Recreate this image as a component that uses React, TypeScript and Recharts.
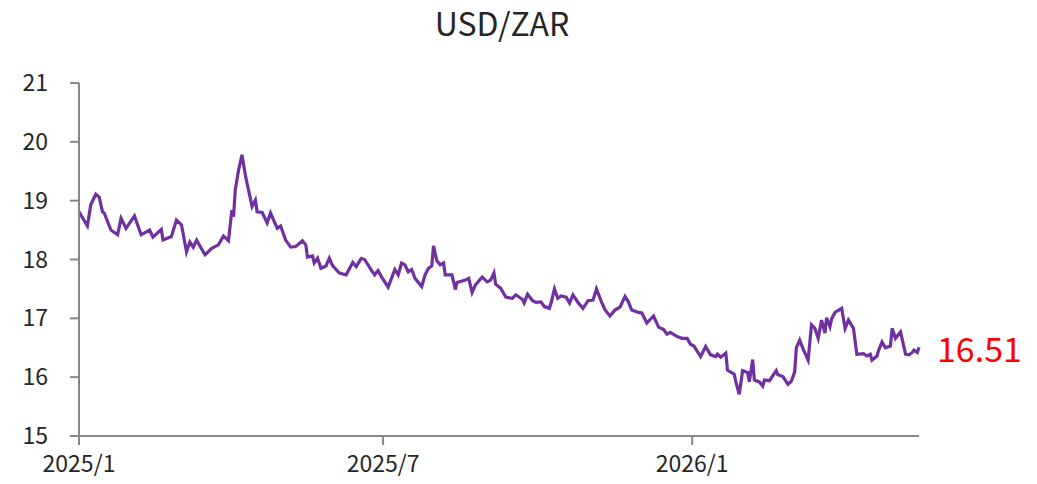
import { LineChart, Line, XAxis, YAxis } from 'recharts';

const dates = [
  '2025-01-01', '2025-01-06', '2025-01-08', '2025-01-11', '2025-01-13', '2025-01-15', '2025-01-16', '2025-01-20',
  '2025-01-24', '2025-01-26', '2025-01-29', '2025-02-03', '2025-02-07', '2025-02-12', '2025-02-14', '2025-02-19',
  '2025-02-20', '2025-02-25', '2025-02-28', '2025-03-03', '2025-03-06', '2025-03-08', '2025-03-10', '2025-03-12',
  '2025-03-17', '2025-03-21', '2025-03-25', '2025-03-28', '2025-03-31', '2025-04-02', '2025-04-03', '2025-04-04',
  '2025-04-06', '2025-04-08', '2025-04-10', '2025-04-11', '2025-04-13', '2025-04-14', '2025-04-16', '2025-04-17',
  '2025-04-20', '2025-04-23', '2025-04-25', '2025-04-29', '2025-05-01', '2025-05-04', '2025-05-07', '2025-05-10',
  '2025-05-14', '2025-05-16', '2025-05-17', '2025-05-20', '2025-05-21', '2025-05-23', '2025-05-25', '2025-05-28',
  '2025-05-30', '2025-06-01', '2025-06-05', '2025-06-09', '2025-06-13', '2025-06-15', '2025-06-18', '2025-06-20',
  '2025-06-24', '2025-06-26', '2025-06-28', '2025-06-30', '2025-07-04', '2025-07-06', '2025-07-08', '2025-07-10',
  '2025-07-12', '2025-07-14', '2025-07-16', '2025-07-18', '2025-07-20', '2025-07-24', '2025-07-26', '2025-07-28',
  '2025-07-30', '2025-07-31', '2025-08-02', '2025-08-04', '2025-08-06', '2025-08-07', '2025-08-11', '2025-08-13',
  '2025-08-14', '2025-08-19', '2025-08-21', '2025-08-23', '2025-08-25', '2025-08-29', '2025-09-01', '2025-09-03',
  '2025-09-05', '2025-09-06', '2025-09-09', '2025-09-12', '2025-09-16', '2025-09-18', '2025-09-22', '2025-09-23',
  '2025-09-25', '2025-09-28', '2025-09-30', '2025-10-03', '2025-10-05', '2025-10-08', '2025-10-09', '2025-10-11',
  '2025-10-13', '2025-10-15', '2025-10-18', '2025-10-20', '2025-10-22', '2025-10-25', '2025-10-28', '2025-10-31',
  '2025-11-03', '2025-11-05', '2025-11-08', '2025-11-10', '2025-11-13', '2025-11-16', '2025-11-19', '2025-11-22',
  '2025-11-24', '2025-11-26', '2025-11-30', '2025-12-02', '2025-12-05', '2025-12-09', '2025-12-12', '2025-12-15',
  '2025-12-17', '2025-12-19', '2025-12-23', '2025-12-26', '2025-12-29', '2025-12-31', '2026-01-02', '2026-01-06',
  '2026-01-09', '2026-01-12', '2026-01-15', '2026-01-16', '2026-01-18', '2026-01-21', '2026-01-22', '2026-01-26',
  '2026-01-27', '2026-01-29', '2026-01-31', '2026-02-03', '2026-02-04', '2026-02-06', '2026-02-07', '2026-02-10',
  '2026-02-12', '2026-02-13', '2026-02-16', '2026-02-20', '2026-02-21', '2026-02-24', '2026-02-27', '2026-03-01',
  '2026-03-03', '2026-03-04', '2026-03-06', '2026-03-08', '2026-03-11', '2026-03-13', '2026-03-15', '2026-03-17',
  '2026-03-19', '2026-03-21', '2026-03-22', '2026-03-24', '2026-03-25', '2026-03-27', '2026-03-31', '2026-04-02',
  '2026-04-04', '2026-04-07', '2026-04-09', '2026-04-13', '2026-04-15', '2026-04-17', '2026-04-18', '2026-04-21',
  '2026-04-22', '2026-04-24', '2026-04-26', '2026-04-29', '2026-04-30', '2026-05-02', '2026-05-05', '2026-05-08',
  '2026-05-10', '2026-05-12', '2026-05-13', '2026-05-15', '2026-05-16',
];

const usdzar = [
  18.81, 18.57, 18.93, 19.11, 19.06, 18.81, 18.79, 18.5,
  18.42, 18.7, 18.53, 18.74, 18.42, 18.5, 18.38, 18.51,
  18.33, 18.39, 18.67, 18.59, 18.13, 18.3, 18.21, 18.33,
  18.08, 18.19, 18.25, 18.4, 18.32, 18.84, 18.73, 19.18,
  19.52, 19.78, 19.44, 19.3, 19.04, 18.9, 19.01, 18.81,
  18.8, 18.62, 18.79, 18.53, 18.57, 18.33, 18.21, 18.22,
  18.32, 18.25, 18.04, 18.06, 17.94, 18.02, 17.85, 17.89,
  18.02, 17.89, 17.77, 17.74, 17.95, 17.88, 18.02, 18.0,
  17.82, 17.74, 17.81, 17.71, 17.53, 17.68, 17.83, 17.74,
  17.94, 17.91, 17.79, 17.83, 17.68, 17.54, 17.74, 17.85,
  17.89, 18.23, 17.98, 17.91, 17.94, 17.74, 17.74, 17.49,
  17.61, 17.65, 17.68, 17.44, 17.57, 17.7, 17.62, 17.65,
  17.77, 17.58, 17.51, 17.36, 17.34, 17.4, 17.32, 17.26,
  17.41, 17.3, 17.27, 17.28, 17.2, 17.17, 17.26, 17.5,
  17.34, 17.38, 17.36, 17.26, 17.4, 17.27, 17.17, 17.3,
  17.31, 17.5, 17.28, 17.15, 17.04, 17.14, 17.19, 17.37,
  17.28, 17.14, 17.1, 17.09, 16.92, 17.04, 16.85, 16.81,
  16.73, 16.76, 16.69, 16.66, 16.66, 16.56, 16.53, 16.35,
  16.52, 16.38, 16.35, 16.39, 16.34, 16.41, 16.12, 16.05,
  15.92, 15.71, 16.11, 16.08, 15.92, 16.3, 15.95, 15.92,
  15.85, 15.95, 15.94, 16.11, 16.04, 16.01, 15.88, 15.93,
  16.09, 16.5, 16.63, 16.48, 16.29, 16.89, 16.83, 16.66,
  16.97, 16.75, 17.01, 16.86, 16.99, 17.1, 17.17, 16.83,
  16.97, 16.83, 16.39, 16.4, 16.36, 16.39, 16.29, 16.36,
  16.46, 16.6, 16.5, 16.53, 16.83, 16.66, 16.77, 16.39,
  16.38, 16.42, 16.46, 16.42, 16.51,
];

const yTicks = [15, 16, 17, 18, 19, 20, 21];
const xTickDates = ['2025-01-01', '2025-07-01', '2026-01-01'];

const toTime = (d: string) => Date.parse(d + 'T00:00:00Z');

const data = dates.map((d, i) => ({ t: toTime(d), v: usdzar[i] }));
const xTicks = xTickDates.map(toTime);

const FONT = '"Noto Sans CJK TC", "Noto Sans", sans-serif';
const AXIS = '#878787';

function fmtMonth(t: number) {
  const d = new Date(t);
  return `${d.getUTCFullYear()}/${d.getUTCMonth() + 1}`;
}

// only the last point gets the red value tag
function LastLabel(props: any) {
  const { x, y, index, value } = props;
  if (index !== data.length - 1) return null;
  return (
    <text x={x + 18} y={y} fill="#ff0000" fontSize={34} fontFamily={FONT} dominantBaseline="central">
      {value.toFixed(2)}
    </text>
  );
}

export default function App() {
  return (
    <div style={{ position: 'relative', width: 1037, height: 484, margin: -8, background: '#fff', fontFamily: FONT }}>
      <div
        style={{
          position: 'absolute',
          top: 0,
          left: 0,
          width: 1004,
          textAlign: 'center',
          fontSize: 32,
          lineHeight: '44px',
          color: '#262626',
        }}
      >
        USD/ZAR
      </div>
      <LineChart width={1037} height={484} data={data} margin={{ top: 83, right: 118, bottom: 4, left: 29 }}>
        <XAxis
          dataKey="t"
          type="number"
          scale="time"
          domain={[data[0].t, data[data.length - 1].t]}
          ticks={xTicks}
          tickFormatter={fmtMonth}
          height={44}
          tickSize={9}
          tickMargin={11}
          stroke={AXIS}
          strokeWidth={2}
          tick={{ fill: '#262626', fontSize: 23, fontFamily: FONT }}
        />
        <YAxis
          domain={[15, 21]}
          ticks={yTicks}
          width={50}
          tickSize={9}
          tickMargin={22}
          stroke={AXIS}
          strokeWidth={2}
          interval={0}
          tick={{ fill: '#262626', fontSize: 23, fontFamily: FONT }}
        />
        <Line
          dataKey="v"
          stroke="#7030a0"
          strokeWidth={3.2}
          dot={false}
          isAnimationActive={false}
          label={<LastLabel />}
        />
      </LineChart>
    </div>
  );
}
